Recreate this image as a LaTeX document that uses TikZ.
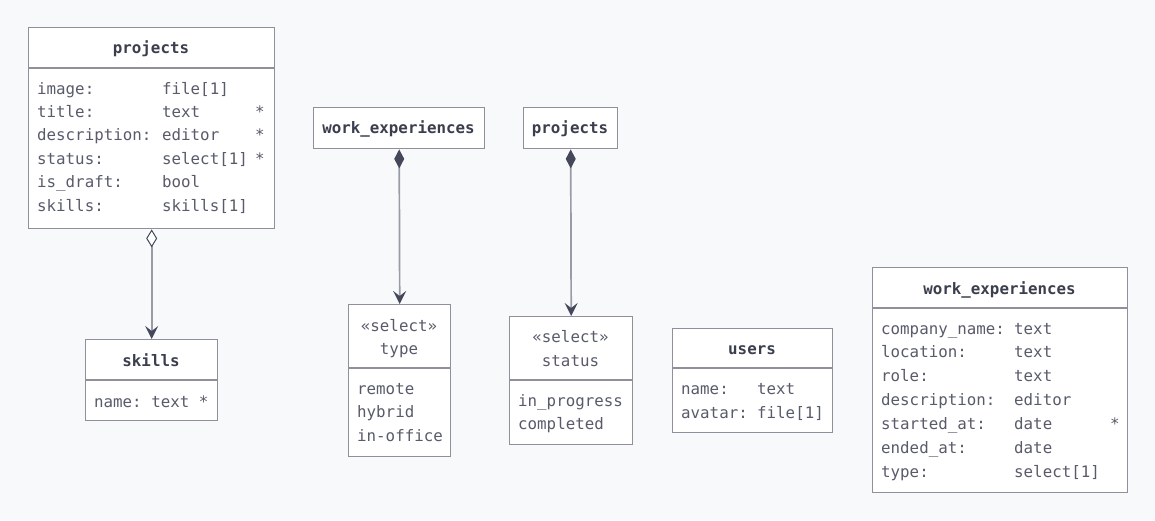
\documentclass[tikz,border=0pt]{standalone}
\usepackage{fontspec}
\setmonofont{DejaVu Sans Mono}
\usetikzlibrary{arrows.meta}
\definecolor{bg}{HTML}{F8F9FB}
\definecolor{boxc}{HTML}{8F909C}
\definecolor{titc}{HTML}{3B3E4D}
\definecolor{txtc}{HTML}{585B6A}
\definecolor{linec}{HTML}{9A9BA5}
\definecolor{arrc}{HTML}{45485A}
\begin{document}
\begin{tikzpicture}[x=1pt,y=-1pt,
  box/.style={draw=boxc, fill=white, line width=1.4pt, inner sep=0pt, anchor=north west},
  divl/.style={draw=boxc, line width=1.4pt},
  ttl/.style={font=\ttfamily\bfseries\fontsize{15.8}{18}\selectfont, text=titc, inner sep=0pt, text height=15pt, text depth=3.5pt},
  stt/.style={font=\ttfamily\fontsize{15.8}{18}\selectfont, text=txtc, inner sep=0pt, text height=15pt, text depth=3.5pt},
  txt/.style={font=\ttfamily\fontsize{15.8}{18}\selectfont, text=txtc, inner sep=0pt, anchor=west, text height=15pt, text depth=3.5pt},
  conn/.style={draw=linec, line width=1.7pt},
  comp/.style={conn, {Diamond[length=19pt,width=10pt,color=arrc,fill=arrc]}-{Stealth[length=13pt,width=13pt,inset=5pt,color=arrc,fill=arrc]}},
  aggr/.style={conn, {Diamond[length=18pt,width=11pt,open,color=arrc,fill=white,line width=1pt]}-{Stealth[length=13pt,width=13pt,inset=5pt,color=arrc,fill=arrc]}}
]
\fill[bg] (0,0) rectangle (1155,520);
\useasboundingbox (0,0) rectangle (1155,520);

% projects (full)
\node[box, minimum width=246pt, minimum height=201pt] (projects) at (28,27) {};
\draw[divl] (28,68) -- (274,68);
\node[ttl] (projectsT) at (151,48) {projects};
\node[txt] (p1a) at (37,89) {image:};       \node[txt] (p1b) at (162,89) {file[1]};
\node[txt] (p2a) at (37,112) {title:};      \node[txt] (p2b) at (162,112) {text};       \node[txt] (p2c) at (255,112) {*};
\node[txt] (p3a) at (37,135) {description:};\node[txt] (p3b) at (162,135) {editor};     \node[txt] (p3c) at (255,135) {*};
\node[txt] (p4a) at (37,159) {status:};     \node[txt] (p4b) at (162,159) {select[1]};  \node[txt] (p4c) at (255,159) {*};
\node[txt] (p5a) at (37,182) {is\_draft:};  \node[txt] (p5b) at (162,182) {bool};
\node[txt] (p6a) at (37,206) {skills:};     \node[txt] (p6b) at (162,206) {skills[1]};

% skills
\node[box, minimum width=132pt, minimum height=81pt] (skills) at (85,339) {};
\draw[divl] (85,380) -- (217,380);
\node[ttl] (skillsT) at (151,361) {skills};
\node[txt] (s1) at (94,402) {name: text *};

% work_experiences (small)
\node[box, minimum width=171pt, minimum height=41pt] (weS) at (313,107) {};
\node[ttl] (weST) at (398.5,128) {work\_experiences};

% projects (small)
\node[box, minimum width=94pt, minimum height=41pt] (prS) at (523,107) {};
\node[ttl] (prST) at (570,128) {projects};

% type select
\node[box, minimum width=102pt, minimum height=152pt] (type) at (348,304) {};
\draw[divl] (348,368) -- (450,368);
\node[stt] (typeS) at (399,326) {«select»};
\node[stt] (typeN) at (399,349) {type};
\node[txt] (t1) at (357,389) {remote};
\node[txt] (t2) at (357,412) {hybrid};
\node[txt] (t3) at (357,436) {in-office};

% status select
\node[box, minimum width=123pt, minimum height=128pt] (status) at (509,316) {};
\draw[divl] (509,380) -- (632,380);
\node[stt] (statusS) at (570.5,337) {«select»};
\node[stt] (statusN) at (570.5,361) {status};
\node[txt] (st1) at (518,401) {in\_progress};
\node[txt] (st2) at (518,424) {completed};

% users
\node[box, minimum width=160pt, minimum height=104pt] (users) at (672,328) {};
\draw[divl] (672,368) -- (832,368);
\node[ttl] (usersT) at (752,349) {users};
\node[txt] (u1a) at (681,389) {name:};   \node[txt] (u1b) at (757,389) {text};
\node[txt] (u2a) at (681,413) {avatar:}; \node[txt] (u2b) at (757,413) {file[1]};

% work_experiences (full)
\node[box, minimum width=255pt, minimum height=225pt] (we) at (872,267) {};
\draw[divl] (872,308) -- (1127,308);
\node[ttl] (weT) at (999.5,289) {work\_experiences};
\node[txt] (w1a) at (881,329) {company\_name:}; \node[txt] (w1b) at (1014,329) {text};
\node[txt] (w2a) at (881,352) {location:};      \node[txt] (w2b) at (1014,352) {text};
\node[txt] (w3a) at (881,376) {role:};          \node[txt] (w3b) at (1014,376) {text};
\node[txt] (w4a) at (881,400) {description:};   \node[txt] (w4b) at (1014,400) {editor};
\node[txt] (w5a) at (881,424) {started\_at:};   \node[txt] (w5b) at (1014,424) {date}; \node[txt] (w5c) at (1110,424) {*};
\node[txt] (w6a) at (881,448) {ended\_at:};     \node[txt] (w6b) at (1014,448) {date};
\node[txt] (w7a) at (881,472) {type:};          \node[txt] (w7b) at (1014,472) {select[1]};

% connectors
\draw[aggr] (projects.south) -- (skills.north);
\draw[comp] (weS.south) -- (type.north);
\draw[comp] (prS.south) -- (status.north);
\end{tikzpicture}
\end{document}
